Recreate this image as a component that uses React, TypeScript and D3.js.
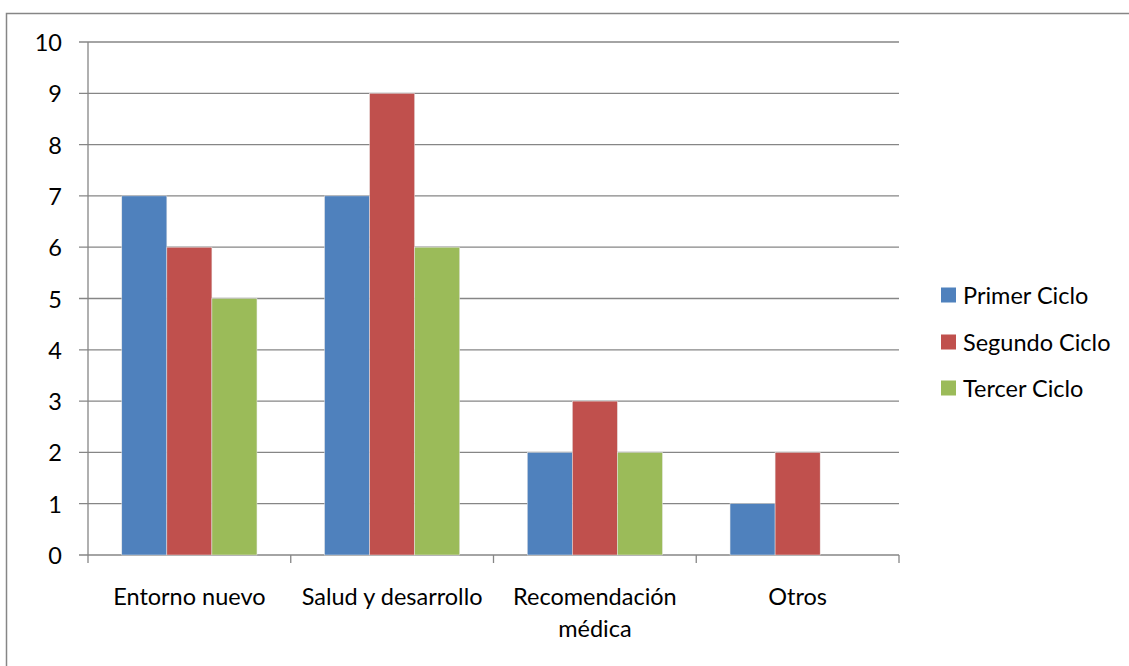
import React from "react";
import * as d3 from "d3";

const categories = ["Entorno nuevo", "Salud y desarrollo", "Recomendación médica", "Otros"];
const categoryLines = [["Entorno nuevo"], ["Salud y desarrollo"], ["Recomendación", "médica"], ["Otros"]];
const seriesNames = ["Primer Ciclo", "Segundo Ciclo", "Tercer Ciclo"];
const primer = [7, 7, 2, 1];
const segundo = [6, 9, 3, 2];
const tercer = [5, 6, 2, 0];
const yTicks = [0, 1, 2, 3, 4, 5, 6, 7, 8, 9, 10];
const colors = ["#4F81BD", "#C0504D", "#9BBB59"];

const W = 1129, H = 666;
const left = 88, right = 899, top = 42, bottom = 555;
const font = "Lato, 'Open Sans', sans-serif";
const fs = 23.5;

export default function App() {
  const series = [primer, segundo, tercer];
  const x0 = d3.scaleBand<string>().domain(categories).range([left, right]).paddingInner(0).paddingOuter(0);
  const bw = x0.bandwidth();
  const barW = bw / 4.5;
  const y = d3.scaleLinear().domain([0, 10]).range([bottom, top]);
  const grid = "#868686";
  return (
    <svg width={W} height={H} style={{ position: "absolute", left: 0, top: 0 }}>
      <rect x={0} y={0} width={W} height={H} fill="#fff" />
      <rect x={6.5} y={13.5} width={1130} height={700} fill="none" stroke="#868686" strokeWidth={1.5} />
      {yTicks.map((t) => (
        <g key={t}>
          <line x1={79} x2={right} y1={y(t)} y2={y(t)} stroke={grid} strokeWidth={1.3} />
          <text x={62} y={y(t)} textAnchor="end" dominantBaseline="central" fontFamily={font} fontSize={fs} fill="#000">{t}</text>
        </g>
      ))}
      <line x1={left} x2={left} y1={top} y2={bottom + 8} stroke={grid} strokeWidth={1.3} />
      {categories.map((c, i) => (
        <line key={c} x1={(x0(c) as number) + bw} x2={(x0(c) as number) + bw} y1={bottom} y2={bottom + 8} stroke={grid} strokeWidth={1.3} />
      ))}
      {series.map((vals, s) =>
        vals.map((v, i) => {
          if (v === 0) return null;
          const bx = (x0(categories[i]) as number) + bw * (0.75 / 4.5) + s * barW;
          return (
            <rect key={s + "-" + i} x={bx} y={y(v)} width={barW} height={y(0) - y(v)} fill={colors[s]} stroke="#e8e8e8" strokeWidth={0.5} />
          );
        })
      )}
      {categories.map((c, i) => (
        <text key={c} x={(x0(c) as number) + bw / 2} y={605} textAnchor="middle" fontFamily={font} fontSize={fs} fill="#000">
          {categoryLines[i].map((ln, k) => (
            <tspan key={k} x={(x0(c) as number) + bw / 2} dy={k === 0 ? 0 : 32}>{ln}</tspan>
          ))}
        </text>
      ))}
      {seriesNames.map((n, s) => (
        <g key={n}>
          <rect x={941} y={[295, 342, 388][s] - 7.5} width={15} height={15} fill={colors[s]} />
          <text x={963} y={[295, 342, 388][s]} dominantBaseline="central" fontFamily={font} fontSize={fs} fill="#000">{n}</text>
        </g>
      ))}
    </svg>
  );
}
